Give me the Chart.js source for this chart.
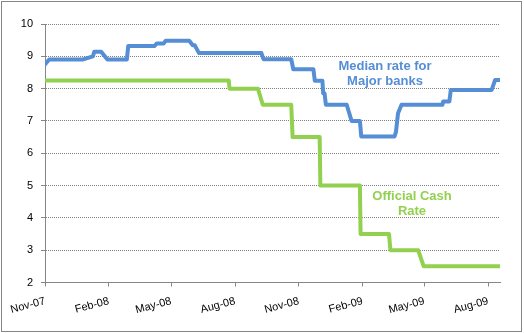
<!DOCTYPE html>
<html>
<head>
<meta charset="utf-8">
<script src="https://cdn.jsdelivr.net/npm/chart.js@4/dist/chart.umd.min.js"></script>
<style>
  html, body { margin: 0; padding: 0; background: #ffffff; }
  #wrap { width: 524px; height: 333px; }
</style>
</head>
<body>
<div id="wrap"><canvas id="c" width="524" height="333"></canvas></div>
<script>
// Median mortgage rate for the major banks vs. the Official Cash Rate
const bankDates = [
  '2007-11-01','2007-11-07','2007-12-25','2008-01-09','2008-01-11','2008-01-21',
  '2008-01-30','2008-02-27','2008-02-29','2008-04-07','2008-04-10','2008-04-20',
  '2008-04-23','2008-05-27','2008-06-01','2008-06-04','2008-06-10','2008-09-08',
  '2008-09-11','2008-10-21','2008-10-24','2008-11-22','2008-11-24','2008-12-05',
  '2008-12-06','2008-12-08','2008-12-10','2009-01-09','2009-01-16','2009-01-28',
  '2009-01-30','2009-03-19','2009-03-21','2009-03-24','2009-03-29','2009-05-27',
  '2009-05-28','2009-06-06','2009-06-08','2009-08-06','2009-08-11','2009-08-18'
];
const bankRates = [
  8.75, 8.90, 8.90, 9.00, 9.14, 9.14,
  8.90, 8.90, 9.32, 9.32, 9.40, 9.40,
  9.48, 9.48, 9.34, 9.34, 9.10, 9.10,
  8.91, 8.91, 8.60, 8.60, 8.24, 8.24,
  7.86, 7.86, 7.50, 7.50, 7.00, 7.00,
  6.52, 6.52, 6.66, 7.24, 7.50, 7.50,
  7.60, 7.60, 7.96, 7.96, 8.27, 8.27
];

const ocrDates = [
  '2007-11-01','2008-07-23','2008-07-24','2008-09-03','2008-09-10','2008-10-21',
  '2008-10-23','2008-12-01','2008-12-02','2009-01-28','2009-01-29','2009-03-11',
  '2009-03-13','2009-04-22','2009-04-30','2009-08-18'
];
const ocrRates = [
  8.25, 8.25, 8.00, 8.00, 7.50, 7.50,
  6.50, 6.50, 5.00, 5.00, 3.50, 3.50,
  3.00, 3.00, 2.50, 2.50
];

const tickDates  = ['2007-11-01','2008-02-01','2008-05-01','2008-08-01','2008-11-01','2009-02-01','2009-05-01','2009-08-01'];
const tickLabels = ['Nov-07','Feb-08','May-08','Aug-08','Nov-08','Feb-09','May-09','Aug-09'];
const axisEndDate = '2009-08-18';

const seriesNames = ['Median rate for Major banks', 'Official Cash Rate'];
const BLUE = '#558ED5';
const GREEN = '#92D050';

// days since the first date, used as the horizontal coordinate
const origin = Date.UTC(2007, 10, 1);
function dayOf(s) {
  const [y, m, d] = s.split('-').map(Number);
  return Math.round((Date.UTC(y, m - 1, d) - origin) / 86400000);
}
const toPoints = (dates, vals) => dates.map((d, i) => ({ x: dayOf(d), y: vals[i] }));
const tickDays = tickDates.map(dayOf);

// free-floating series captions
const captions = {
  id: 'captions',
  afterDatasetsDraw(chart) {
    const ctx = chart.ctx;
    ctx.save();
    ctx.font = 'bold 13px "Liberation Sans", Arial, sans-serif';
    ctx.textAlign = 'center';
    ctx.textBaseline = 'alphabetic';
    ctx.fillStyle = BLUE;
    ctx.fillText('Median rate for', 385, 70);
    ctx.fillText('Major banks', 385, 85);
    ctx.fillStyle = GREEN;
    ctx.fillText('Official Cash', 412, 200);
    ctx.fillText('Rate', 412, 214.5);
    ctx.restore();
  }
};

// outer chart frame
const frame = {
  id: 'frame',
  afterDraw(chart) {
    const ctx = chart.ctx;
    ctx.save();
    ctx.strokeStyle = '#868686';
    ctx.lineWidth = 1;
    ctx.strokeRect(1.5, 1.5, 520, 330);
    ctx.restore();
  }
};

const tickFont = { family: '"Liberation Sans", Arial, sans-serif', size: 11 };

new Chart(document.getElementById('c'), {
  type: 'line',
  data: {
    datasets: [
      {
        label: seriesNames[0],
        data: toPoints(bankDates, bankRates),
        borderColor: BLUE,
        borderWidth: 4,
        borderJoinStyle: 'round',
        borderCapStyle: 'round',
        pointRadius: 0,
        tension: 0,
        fill: false
      },
      {
        label: seriesNames[1],
        data: toPoints(ocrDates, ocrRates),
        borderColor: GREEN,
        borderWidth: 4,
        borderJoinStyle: 'round',
        borderCapStyle: 'round',
        pointRadius: 0,
        tension: 0,
        fill: false
      }
    ]
  },
  options: {
    responsive: false,
    animation: false,
    devicePixelRatio: 1,
    layout: { padding: { left: 0, right: 24, top: 24, bottom: 0 } },
    plugins: { legend: { display: false }, tooltip: { enabled: false } },
    scales: {
      x: {
        type: 'linear',
        min: 0,
        max: dayOf(axisEndDate),
        afterBuildTicks(scale) { scale.ticks = tickDays.map(v => ({ value: v })); },
        afterFit(scale) { scale.height = 50.5; scale.paddingLeft = 0; scale.paddingRight = 0; },
        ticks: {
          autoSkip: false,
          minRotation: 15,
          maxRotation: 15,
          padding: 8,
          color: '#000000',
          font: tickFont,
          callback(value) {
            const i = tickDays.indexOf(value);
            return i >= 0 ? tickLabels[i] : '';
          }
        },
        grid: {
          drawOnChartArea: false,
          drawTicks: true,
          tickLength: 4,
          tickColor: '#868686',
          tickBorderDash: []
        },
        border: { display: true, color: '#868686', width: 1 }
      },
      y: {
        min: 2,
        max: 10,
        afterFit(scale) { scale.width = 45; scale.paddingTop = 0; scale.paddingBottom = 0; },
        ticks: {
          stepSize: 1,
          padding: 8,
          color: '#000000',
          font: tickFont
        },
        grid: {
          color: '#808080',
          lineWidth: 1,
          drawTicks: true,
          tickLength: 4,
          tickColor: '#868686',
          tickBorderDash: []
        },
        border: { display: true, color: '#868686', width: 1, dash: [1, 1] }
      }
    }
  },
  plugins: [captions, frame]
});
</script>
</body>
</html>
